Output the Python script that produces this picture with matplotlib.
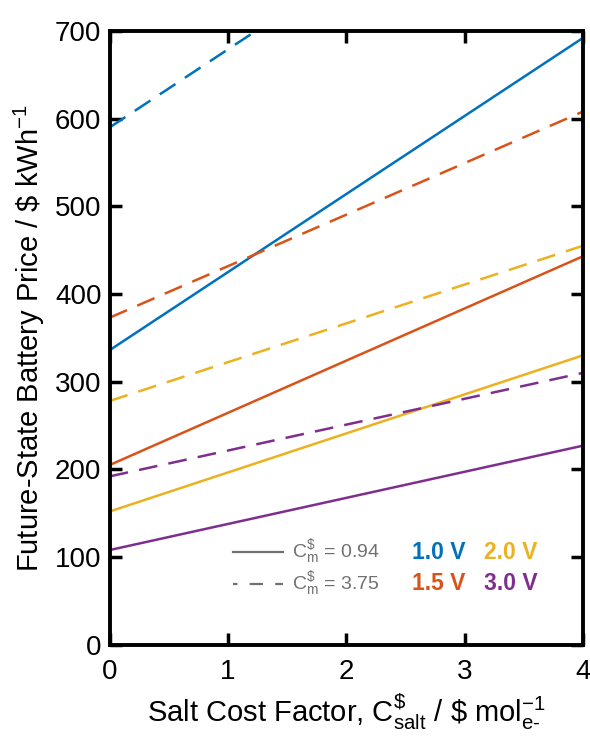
import matplotlib
matplotlib.use("Agg")
import matplotlib.pyplot as plt

plt.rcParams['font.family'] = ['Liberation Sans', 'DejaVu Sans']
plt.rcParams['mathtext.fontset'] = 'custom'
plt.rcParams['mathtext.rm'] = 'Liberation Sans'
plt.rcParams['mathtext.it'] = 'Liberation Sans'

# data
salt_cost = [0, 4]
voltages = ["1.0 V", "1.5 V", "2.0 V", "3.0 V"]
colors = ["#0072BD", "#D95319", "#EDB120", "#7E2F8E"]
price_low = [[336, 692], [205, 443], [152, 330], [108, 227]]     # C_m = 0.94
price_high = [[590, 946], [373, 608], [278, 455], [192, 310]]    # C_m = 3.75
cm_labels = ["0.94", "3.75"]

fig = plt.figure(figsize=(5.9, 7.36), dpi=100)
ax = fig.add_axes([0.186, 0.124, 0.802, 0.834])

for i in range(len(voltages)):
    ax.plot(salt_cost, price_low[i], color=colors[i], lw=1.8)
    ax.plot(salt_cost, price_high[i], color=colors[i], lw=1.8, dashes=(7.5, 4.5))

ax.set_xlim(0, 4)
ax.set_ylim(0, 700)
ax.set_xticks([0, 1, 2, 3, 4])
ax.set_yticks(range(0, 701, 100))
ax.tick_params(direction='in', length=8.5, width=2.5, labelsize=20,
               top=True, right=True, pad=6)
ax.tick_params(axis='x', pad=10)
for s in ax.spines.values():
    s.set_linewidth(2.8)

ax.set_xlabel(r'Salt Cost Factor, C$^{\$}_{\mathrm{salt}}$ / \$ mol$^{-1}_{\mathrm{e}\text{-}}$',
              fontsize=21, labelpad=5)
ax.set_ylabel(r'Future-State Battery Price / \$ kWh$^{-1}$', fontsize=21, labelpad=6)

# custom legend
gray = "#707070"
ax.plot([0.26, 0.366], [0.151, 0.151], color=gray, lw=1.6, transform=ax.transAxes)
ax.plot([0.26, 0.366], [0.099, 0.099], color=gray, lw=1.6, linestyle=(4, (6, 5.5)),
        transform=ax.transAxes)
ax.text(0.385, 0.151, r'C$^{\$}_{\mathrm{m}}$ = ' + cm_labels[0], color=gray,
        fontsize=14, va='center', transform=ax.transAxes)
ax.text(0.385, 0.099, r'C$^{\$}_{\mathrm{m}}$ = ' + cm_labels[1], color=gray,
        fontsize=14, va='center', transform=ax.transAxes)

pos = [(0.638, 0.151), (0.638, 0.099), (0.791, 0.151), (0.791, 0.099)]
for i in range(len(voltages)):
    ax.text(pos[i][0], pos[i][1], voltages[i], color=colors[i], fontsize=16.5,
            fontweight='bold', va='center', transform=ax.transAxes)

fig.savefig("out.png", dpi=100)
